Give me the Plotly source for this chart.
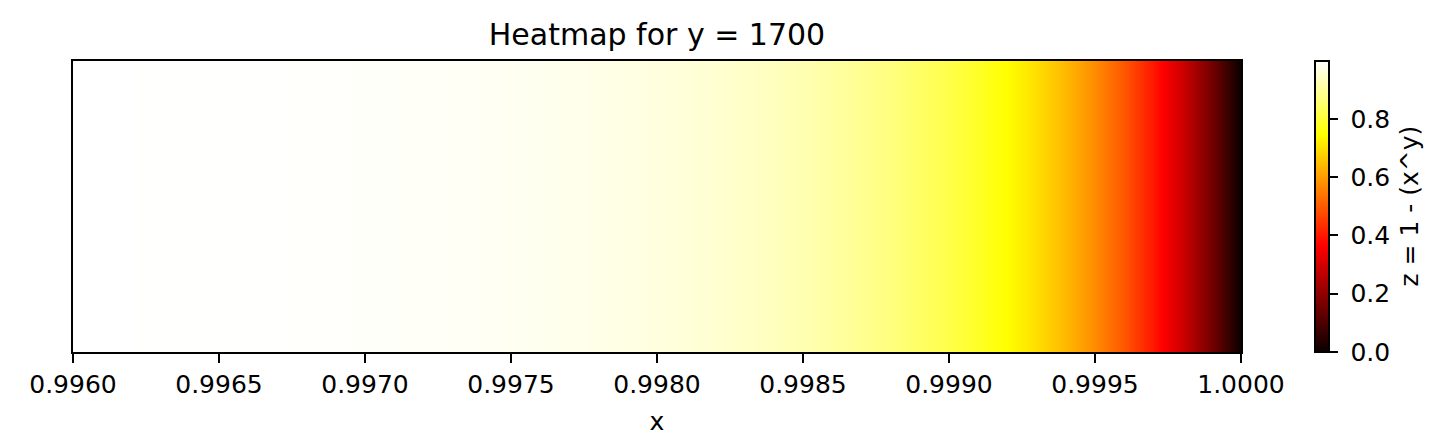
import plotly.graph_objects as go

x_values = [0.9960, 0.9961, 0.9962, 0.9963, 0.9964, 0.9965, 0.9966, 0.9967, 0.9968, 0.9969,
            0.9970, 0.9971, 0.9972, 0.9973, 0.9974, 0.9975, 0.9976, 0.9977, 0.9978, 0.9979,
            0.9980, 0.9981, 0.9982, 0.9983, 0.9984, 0.9985, 0.9986, 0.9987, 0.9988, 0.9989,
            0.9990, 0.9991, 0.9992, 0.9993, 0.9994, 0.9995, 0.9996, 0.9997, 0.9998, 0.9999,
            1.0000]
z_values = [0.99890, 0.99870, 0.99845, 0.99817, 0.99783, 0.99742, 0.99694, 0.99637, 0.99570, 0.99490,
            0.99395, 0.99283, 0.99149, 0.98991, 0.98803, 0.98581, 0.98318, 0.98005, 0.97634, 0.97195,
            0.96674, 0.96056, 0.95324, 0.94456, 0.93427, 0.92207, 0.90760, 0.89046, 0.87013, 0.84603,
            0.81747, 0.78361, 0.74348, 0.69591, 0.63952, 0.57267, 0.49345, 0.39955, 0.28825, 0.15634,
            0.00000]
y_rows = [0, 1]
x_ticks = [0.9960, 0.9965, 0.9970, 0.9975, 0.9980, 0.9985, 0.9990, 0.9995, 1.0000]
cbar_ticks = [0.0, 0.2, 0.4, 0.6, 0.8]
title_text = "Heatmap for y = 1700"
x_label = "x"
cbar_label = "z = 1 - (x^y)"

hot = [[0.0, "rgb(10,0,0)"], [0.365079, "rgb(255,0,0)"],
       [0.746032, "rgb(255,255,0)"], [1.0, "rgb(255,255,255)"]]

FONT = "DejaVu Sans"
BODY = 8  # default page margin of the browser
PLOT_L, PLOT_R, PLOT_T, PLOT_B = 73, 1241, 61, 352
W, H = 1456, 446
ml, mt = PLOT_L - BODY, PLOT_T - BODY
pw, ph = PLOT_R - PLOT_L, PLOT_B - PLOT_T
mr, mb = W - ml - pw, H - mt - ph

fig = go.Figure()
fig.add_trace(go.Heatmap(
    x=x_values, y=y_rows, z=[z_values, z_values],
    colorscale=hot, zmin=0, zmax=max(z_values), zsmooth="best",
    colorbar=dict(
        thickness=14, thicknessmode="pixels", len=1, lenmode="fraction",
        x=(1315 - PLOT_L) / pw, xanchor="left", xref="paper", xpad=0, ypad=0,
        y=0.5, yanchor="middle",
        outlinewidth=2, outlinecolor="black",
        tickvals=cbar_ticks, ticktext=["\u00a0" + f"{t:.1f}" for t in cbar_ticks],
        ticks="outside", ticklen=8, tickwidth=2, tickcolor="black",
        tickfont=dict(family=FONT, size=25, color="black"),
        title=dict(text=""),
    ),
))

fig.add_annotation(text=cbar_label, xref="paper", yref="paper",
                   x=(1409 - PLOT_L) / pw, y=0.5, xanchor="center", yanchor="middle",
                   textangle=-90, showarrow=False,
                   font=dict(family=FONT, size=25, color="black"))

fig.update_layout(
    width=W, height=H,
    margin=dict(l=ml, r=mr, t=mt, b=mb),
    paper_bgcolor="white", plot_bgcolor="white",
    title=dict(text=title_text, x=0.5, xref="paper", xanchor="center",
               y=1, yref="paper", yanchor="bottom", pad=dict(b=16),
               font=dict(family=FONT, size=30, color="black")),
    font=dict(family=FONT, size=25, color="black"),
    xaxis=dict(range=[0.996, 1.0], tickvals=x_ticks, ticktext=[f"{t:.4f}" for t in x_ticks],
               ticks="outside", ticklen=9, tickwidth=2, tickcolor="black",
               showline=True, linewidth=2, linecolor="black", mirror=True,
               showgrid=False, zeroline=False,
               tickfont=dict(family=FONT, size=25, color="black"),
               title=dict(text=x_label, standoff=14, font=dict(family=FONT, size=25, color="black"))),
    yaxis=dict(range=[0, 1], showticklabels=False, ticks="", showgrid=False, zeroline=False,
               showline=True, linewidth=2, linecolor="black", mirror=True),
)

fig.write_html("out.html")
